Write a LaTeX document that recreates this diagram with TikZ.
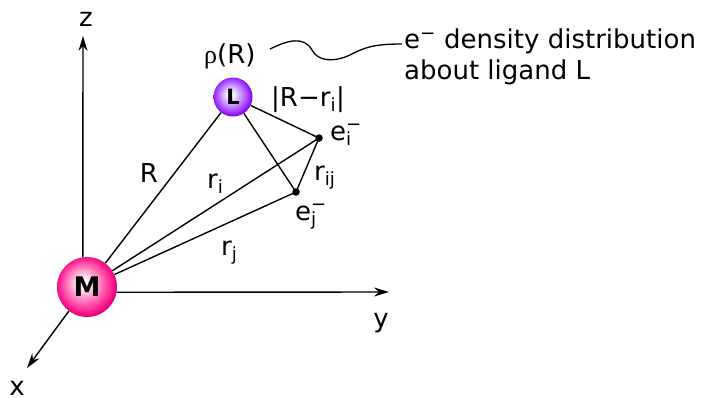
\documentclass[tikz,border=0pt]{standalone}
\usepackage{fontspec}
\setmainfont{DejaVu Sans}
\newfontfamily\rhofont{Liberation Serif}
\usetikzlibrary{arrows.meta}
\definecolor{Mpink}{RGB}{255,40,150}
\definecolor{Mdark}{RGB}{225,0,120}
\definecolor{Lpurp}{RGB}{160,60,255}
\definecolor{Ldark}{RGB}{125,0,235}
\pgfdeclareradialshading{mball}{\pgfqpoint{-4bp}{4bp}}{color(0bp)=(white); color(3bp)=(white); color(21bp)=(Mpink); color(26bp)=(Mdark); color(40bp)=(Mdark)}
\pgfdeclareradialshading{lball}{\pgfqpoint{-4bp}{4bp}}{color(0bp)=(white); color(3bp)=(white); color(21bp)=(Lpurp); color(26bp)=(Ldark); color(40bp)=(Ldark)}
\newcommand\supsub[2]{\rlap{\textsubscript{#2}}\textsuperscript{#1}}
\begin{document}
\begin{tikzpicture}[x=1pt,y=-1pt,
  lbl/.style={inner sep=0pt,anchor=base west,font=\fontsize{26}{31}\selectfont},
  ln/.style={line width=1.4pt},
  axis/.style={line width=1.4pt,-{Stealth[length=15pt,width=9pt,inset=5pt]}},
  dotn/.style={circle,fill=black,inner sep=0pt,minimum size=7.5pt}]
\useasboundingbox (0,0) rectangle (706,397);
% balls
\node[circle,minimum size=60pt,inner sep=0pt,shading=mball,font=\fontsize{27}{30}\selectfont\bfseries] (M) at (87,287) {M};
\node[circle,minimum size=39pt,inner sep=0pt,shading=lball,font=\fontsize{21}{24}\selectfont\bfseries] (L) at (233,97) {L};
\node[dotn] (ei) at (319,138) {};
\node[dotn] (ej) at (296,192) {};
% axes
\coordinate (ztip) at (83,36);
\coordinate (ytip) at (389,292);
\coordinate (xtip) at (27,368);
\draw[axis] (M.98) -- (ztip);
\draw[axis] (M.-10) -- (ytip);
\draw[axis] (M.-127) -- (xtip);
% connectors
\draw[ln] (L) -- (M);
\draw[ln] (L) -- (ei.center);
\draw[ln] (L) -- (ej.center);
\draw[ln] (ei.center) -- (ej.center);
\draw[ln] (M) -- (ei.center);
\draw[ln] (M) -- (ej.center);
% labels
\node[lbl,anchor=base] (zl) at (86,26) {z};
\node[lbl,anchor=base] (yl) at (381,327) {y};
\node[lbl,anchor=base] (xl) at (17,395) {x};
\node[lbl,anchor=base] (Rl) at (149,182) {R};
\node[lbl] (ril) at (207,188) {r\textsubscript{i}};
\node[lbl] (rjl) at (221,255) {r\textsubscript{j}};
\node[lbl] (rijl) at (314,180) {r\textsubscript{ij}};
\node[lbl] (eil) at (330,140) {e\supsub{−}{i}};
\node[lbl] (ejl) at (295,220) {e\supsub{−}{j}};
\node[lbl] (Rril) at (271,106) {|R−r\textsubscript{i}|};
\node[lbl] (rho) at (204,63) {{\rhofont ρ}(R)};
\node[lbl,align=left,anchor=north west] (note) at (404,29) {e\textsuperscript{−} density distribution\\about ligand L};
% wavy leader
\coordinate (w0) at (270,49);
\coordinate (w1) at (402,44);
\draw[line width=1.3pt] (w0) .. controls (288,40) and (304,36) .. (312,50)
  .. controls (318,62) and (335,62) .. (350,55)
  .. controls (365,47) and (375,44) .. (w1);
\end{tikzpicture}
\end{document}
